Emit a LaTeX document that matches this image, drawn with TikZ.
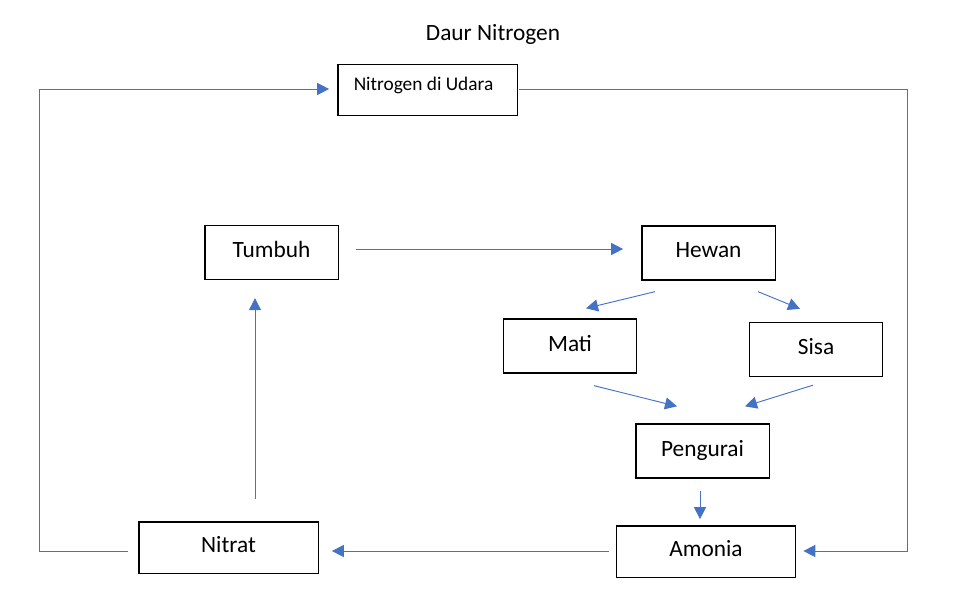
\documentclass[tikz,border=0pt]{standalone}
\usepackage{fontspec}
\setmainfont{Carlito}
\usetikzlibrary{calc,arrows.meta}
\definecolor{arrblue}{HTML}{4472C4}

\begin{document}
\begin{tikzpicture}[
		x=0.75pt, y=-0.75pt,
		box/.style={draw, line width=1pt, minimum width=100pt, minimum height=40.5pt, inner sep=0pt, text height=12.5pt, text depth=5pt, font=\fontsize{17.5pt}{21pt}\selectfont},
		widebox/.style={box, minimum width=134.5pt, minimum height=38.5pt},
		arr/.style={-{Triangle[length=9pt, width=9pt]}, draw=arrblue, line width=0.7pt}
		]
		\useasboundingbox (0,0) rectangle (959,598);
		\node[font=\fontsize{17.5pt}{21pt}\selectfont] (title) at (493,34) {Daur Nitrogen};
		
		\node[widebox, font=\fontsize{14.5pt}{17pt}\selectfont] (udara) at (427.5,90) {\raisebox{3.5pt}{Nitrogen di Udara}\hspace*{6pt}};
		\node[box] (tumbuh) at (271.5,252.5) {Tumbuh};
		\node[box] (hewan) at (708.5,253) {Hewan};
		\node[box] (mati) at (570,346) {Mati};
		\node[box] (sisa) at (816,349.5) {Sisa};
		\node[box] (pengurai) at (702.5,451) {Pengurai};
		\node[widebox] (amonia) at (706,551.5) {Amonia};
		\node[widebox] (nitrat) at (228.5,547.5) {Nitrat};
		
		\draw[arr] ($(tumbuh.east)+(17,-3.5)$) -- ($(hewan.west)+(-18,-4)$);
		\draw[arr] ($(hewan.south)+(-53.5,11)$) -- ($(mati.north)+(16,-10)$);
		\draw[arr] ($(hewan.south)+(49.5,11)$) -- ($(sisa.north)+(-16,-13)$);
		\draw[arr] ($(mati.south)+(24,12)$) -- ($(pengurai.north)+(-25.5,-17)$);
		\draw[arr] ($(sisa.south)+(-3,8)$) -- ($(pengurai.north)+(42.5,-17)$);
		\draw[arr] ($(pengurai.south)+(-2.5,12)$) -- ($(amonia.north)+(-6,-6)$);
		\draw[arr] ($(amonia.west)+(-7,-0.5)$) -- ($(nitrat.east)+(13,3.5)$);
		\draw[arr] ($(nitrat.north)+(26.5,-22)$) -- ($(tumbuh.south)+(-16.5,18)$);
		\draw[arr] ($(nitrat.west)+(-10,3.5)$) -- ++(-89,0) |- ($(udara.west)+(-8,-1)$);
		\draw[arr] ($(udara.east)+(1,-1)$) -- ++(389,0) |- ($(amonia.east)+(7,-0.5)$);
	\end{tikzpicture}
\end{document}
